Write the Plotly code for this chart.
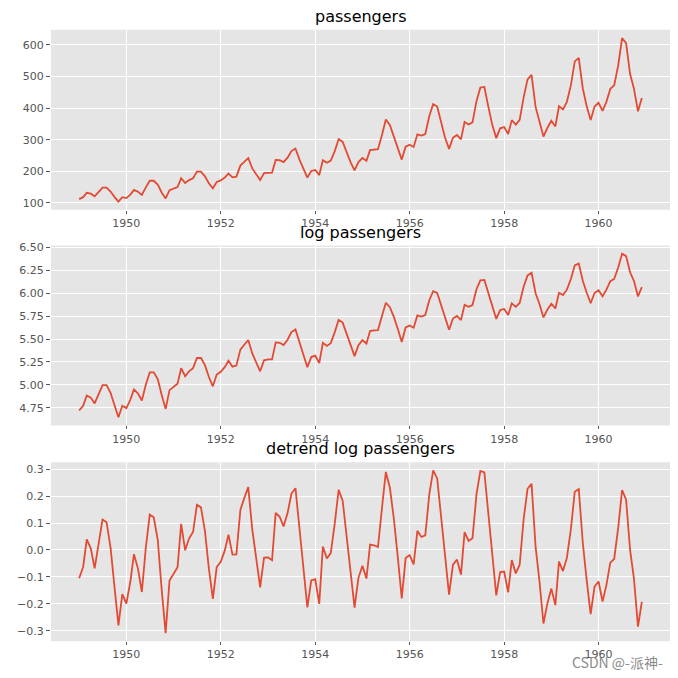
import numpy as np
import pandas as pd
import plotly.graph_objects as go

# Monthly airline passengers 1949-1960 (thousands)
months = pd.date_range("1949-01-01", "1960-12-01", freq="MS")
passengers = [
    112, 118, 132, 129, 121, 135, 148, 148, 136, 119, 104, 118,
    115, 126, 141, 135, 125, 149, 170, 170, 158, 133, 114, 140,
    145, 150, 178, 163, 172, 178, 199, 199, 184, 162, 146, 166,
    171, 180, 193, 181, 183, 218, 230, 242, 209, 191, 172, 194,
    196, 196, 236, 235, 229, 243, 264, 272, 237, 211, 180, 201,
    204, 188, 235, 227, 234, 264, 302, 293, 259, 229, 203, 229,
    242, 233, 267, 269, 270, 315, 364, 347, 312, 274, 237, 278,
    284, 277, 317, 313, 318, 374, 413, 405, 355, 306, 271, 306,
    315, 301, 356, 348, 355, 422, 465, 467, 404, 347, 305, 336,
    340, 318, 362, 348, 363, 435, 491, 505, 404, 359, 310, 337,
    360, 342, 406, 396, 420, 472, 548, 559, 463, 407, 362, 405,
    417, 391, 419, 461, 472, 535, 622, 606, 508, 461, 390, 432,
]
titles = ["passengers", "log passengers", "detrend log passengers"]

pax = np.array(passengers, dtype=float)
log_pax = np.log(pax)
idx = np.arange(len(log_pax))
coef = np.polyfit(idx, log_pax, 1)
detrend_log = log_pax - np.polyval(coef, idx)

series = [pax, log_pax, detrend_log]

W = H = 678

def fx(p):
    return p / W

def fy(p):
    return 1 - p / H

x0, x1 = fx(51), fx(670)
panels = [(26, 207), (243, 424), (461, 641)]  # top/bottom pixel rows

LINE = "#E24A33"
BG = "#E5E5E5"
TXT = "#555555"

fig = go.Figure()

def pad_range(v, frac=0.05):
    lo, hi = float(np.min(v)), float(np.max(v))
    m = (hi - lo) * frac
    return [lo - m, hi + m]

t0 = months[0]
t1 = months[-1]
span = (t1 - t0) * 0.05
xrange_ = [t0 - span, t1 + span]

ytick_specs = [
    dict(tickvals=[100, 200, 300, 400, 500, 600], tickformat="d"),
    dict(tickvals=[4.75, 5.0, 5.25, 5.5, 5.75, 6.0, 6.25, 6.5], tickformat=".2f"),
    dict(tickvals=[-0.3, -0.2, -0.1, 0.0, 0.1, 0.2, 0.3], tickformat=".1f"),
]

for i, (s, (top, bot)) in enumerate(zip(series, panels)):
    n = "" if i == 0 else str(i + 1)
    fig.add_trace(go.Scatter(
        x=months, y=s, mode="lines",
        line=dict(color=LINE, width=1.8),
        xaxis="x" + n, yaxis="y" + n, showlegend=False,
        hoverinfo="x+y",
    ))
    dom = [fy(bot), fy(top)]
    fig.layout["xaxis" + n] = dict(
        domain=[x0, x1], anchor="y" + n, type="date", range=xrange_,
        tick0="1950-01-01", dtick="M24", tickformat="%Y",
        showgrid=True, gridcolor="white", gridwidth=1,
        ticks="outside", ticklen=3, tickcolor=TXT, tickwidth=1,
        tickfont=dict(family="DejaVu Sans", size=11, color=TXT),
        showline=False, zeroline=False,
    )
    fig.layout["yaxis" + n] = dict(
        domain=dom, anchor="x" + n, range=pad_range(s),
        showgrid=True, gridcolor="white", gridwidth=1,
        ticks="outside", ticklen=4, tickcolor=TXT, tickwidth=1,
        tickfont=dict(family="DejaVu Sans", size=11, color=TXT),
        showline=False, zeroline=False,
        **ytick_specs[i],
    )
    fig.add_shape(type="rect", xref="paper", yref="paper",
                  x0=x0, x1=x1, y0=dom[0], y1=dom[1],
                  fillcolor=BG, line=dict(width=0), layer="below")
    fig.add_annotation(
        text=titles[i], xref="paper", yref="paper",
        x=(x0 + x1) / 2, y=dom[1] + 3 / H, xanchor="center", yanchor="bottom",
        showarrow=False, borderpad=0,
        font=dict(family="DejaVu Sans", size=16, color="black"),
    )

fig.add_annotation(
    text="CSDN @-派神-", xref="paper", yref="paper",
    x=fx(664), y=fy(662), xanchor="right", yanchor="middle",
    showarrow=False, borderpad=0,
    font=dict(family="Noto Sans CJK SC", size=14, color="#8a8a8a"),
)

fig.update_layout(
    width=W, height=H, margin=dict(l=0, r=0, t=0, b=0),
    paper_bgcolor="white", plot_bgcolor="rgba(0,0,0,0)",
)

fig.write_html("out.html", config={"displayModeBar": False},
               post_script="document.body.style.margin='0';")
